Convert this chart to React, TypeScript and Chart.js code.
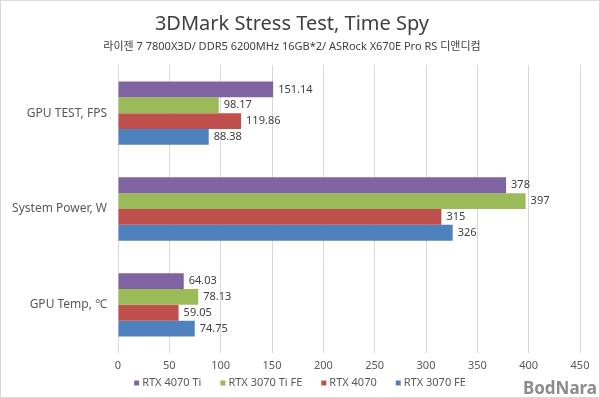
import React, { useEffect, useRef } from "react";
import { Chart, registerables } from "chart.js";

Chart.register(...registerables);

const categories = ["GPU TEST, FPS", "System Power, W", "GPU Temp, ℃"];
const seriesNames = ["RTX 4070 Ti", "RTX 3070 Ti FE", "RTX 4070", "RTX 3070 FE"];
const rtx4070Ti = [151.14, 378, 64.03];
const rtx3070TiFE = [98.17, 397, 78.13];
const rtx4070 = [119.86, 315, 59.05];
const rtx3070FE = [88.38, 326, 74.75];
const labelTexts = [
  ["151.14", "378", "64.03"],
  ["98.17", "397", "78.13"],
  ["119.86", "315", "59.05"],
  ["88.38", "326", "74.75"],
];
const colors = ["#8064A2", "#9BBB59", "#C0504D", "#4F81BD"];
const titleText = "3DMark Stress Test, Time Spy";
const subtitleText = "라이젠 7 7800X3D/ DDR5 6200MHz 16GB*2/ ASRock X670E Pro RS 디앤디컴";
const watermark = "BodNara";

const FONT = "'Noto Sans', 'Noto Sans CJK KR', sans-serif";

const frame = {
  id: "frame",
  beforeDraw(chart: any) {
    const { ctx, width, height } = chart;
    ctx.save();
    ctx.fillStyle = "#ffffff";
    ctx.fillRect(0, 0, width, height);
    ctx.strokeStyle = "#d9d9d9";
    ctx.lineWidth = 1;
    ctx.strokeRect(0.5, 0.5, width - 1, height - 1);
    ctx.restore();
  },
  afterDraw(chart: any) {
    const { ctx, width, height } = chart;
    ctx.save();
    // legend
    ctx.font = `11px ${FONT}`;
    ctx.textBaseline = "middle";
    ctx.textAlign = "left";
    const box = 5;
    const gapBoxText = 3;
    const gapItems = 19;
    const items = chart.data.datasets.map((ds: any) => ({
      label: ds.label,
      color: ds.backgroundColor,
      w: box + gapBoxText + ctx.measureText(ds.label).width,
    }));
    const total = items.reduce((a: number, it: any) => a + it.w, 0) + gapItems * (items.length - 1);
    let x = width / 2 - total / 2;
    const y = 383;
    items.forEach((it: any) => {
      ctx.fillStyle = it.color;
      ctx.fillRect(x, y - box / 2, box, box);
      ctx.fillStyle = "#595959";
      ctx.fillText(it.label, x + box + gapBoxText, y);
      x += it.w + gapItems;
    });
    // watermark
    ctx.font = `bold 17px ${FONT}`;
    ctx.fillStyle = "#8c8c8c";
    ctx.textAlign = "right";
    ctx.textBaseline = "alphabetic";
    ctx.fillText(watermark, width - 3, height - 4);
    ctx.restore();
  },
};

const valueLabels = {
  id: "valueLabels",
  afterDatasetsDraw(chart: any) {
    const { ctx } = chart;
    ctx.save();
    ctx.font = `11px ${FONT}`;
    ctx.fillStyle = "#404040";
    ctx.textAlign = "left";
    ctx.textBaseline = "middle";
    chart.data.datasets.forEach((ds: any, di: number) => {
      const meta = chart.getDatasetMeta(di);
      meta.data.forEach((el: any, i: number) => {
        ctx.fillText(labelTexts[di][i], el.x + 5, el.y);
      });
    });
    ctx.restore();
  },
};

export default function App() {
  const ref = useRef<HTMLCanvasElement>(null);
  useEffect(() => {
    const data = [rtx4070Ti, rtx3070TiFE, rtx4070, rtx3070FE];
    const chart = new Chart(ref.current as HTMLCanvasElement, {
      type: "bar",
      data: {
        labels: categories,
        datasets: seriesNames.map((n, i) => ({
          label: n,
          data: data[i],
          backgroundColor: colors[i],
          borderWidth: 0,
          categoryPercentage: 0.66,
          barPercentage: 1.0,
        })),
      },
      options: {
        indexAxis: "y",
        animation: false,
        responsive: false,
        layout: { padding: { left: 4, right: 20, top: 8, bottom: 20 } },
        plugins: {
          title: {
            display: true,
            text: titleText,
            color: "#404040",
            font: { family: FONT, size: 20, weight: "normal" },
            padding: { top: 4, bottom: 4 },
          },
          subtitle: {
            display: true,
            text: subtitleText,
            color: "#404040",
            font: { family: FONT, size: 11, weight: "normal" },
            padding: { top: 0, bottom: 12 },
          },
          legend: { display: false },
          tooltip: { enabled: false },
        },
        scales: {
          x: {
            min: 0,
            max: 450,
            ticks: { stepSize: 50, color: "#595959", font: { family: FONT, size: 11 }, padding: 6 },
            grid: { color: "#d9d9d9", drawTicks: false },
            border: { display: false },
          },
          y: {
            ticks: { color: "#595959", font: { family: FONT, size: 12 }, padding: 3 },
            grid: { display: false },
            border: { display: false },
            afterFit(s: any) {
              s.width = 114;
            },
          },
        },
      },
      plugins: [frame, valueLabels],
    });
    return () => chart.destroy();
  }, []);
  return (
    <div style={{ position: "fixed", left: 0, top: 0, width: 600, height: 398 }}>
      <canvas ref={ref} width={600} height={398} style={{ display: "block" }} />
    </div>
  );
}
